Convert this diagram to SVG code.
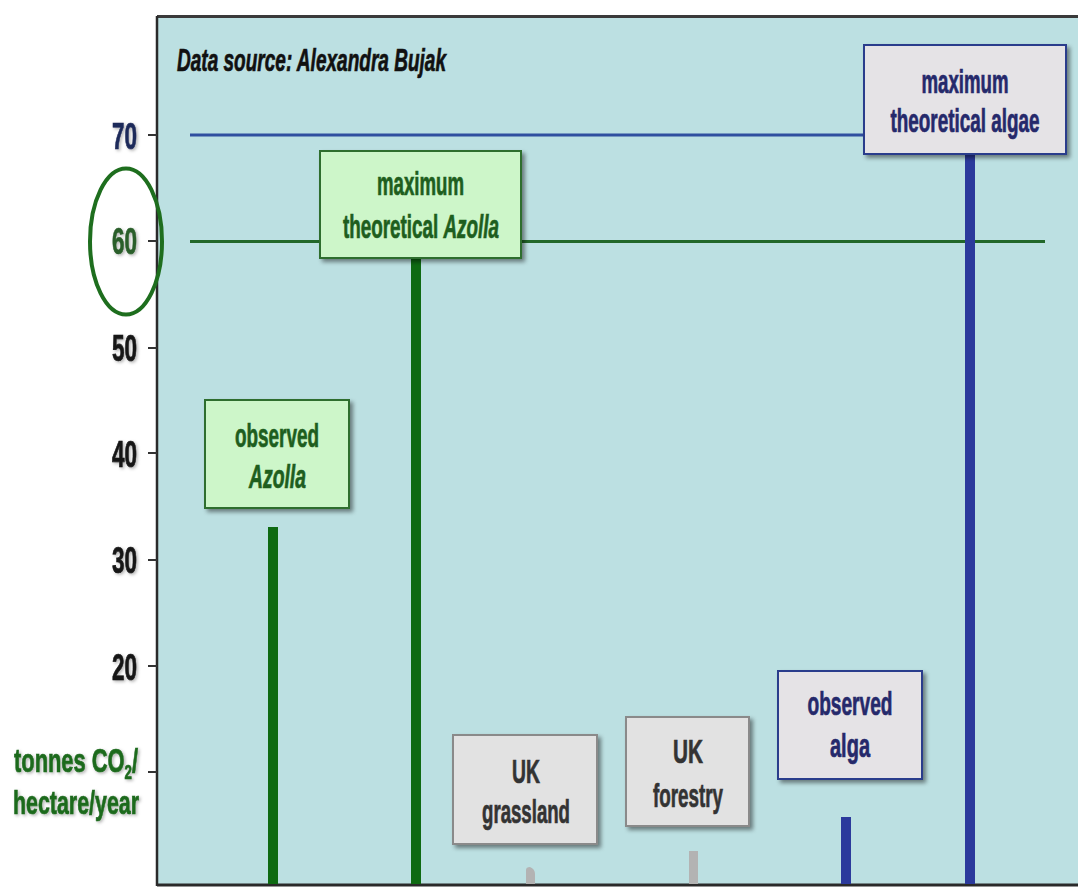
<svg xmlns="http://www.w3.org/2000/svg" width="1078" height="888" viewBox="0 0 1078 888">
<style>
  text { font-family: "Liberation Sans", Arial, sans-serif; font-weight: bold; stroke-width: 0.7px; }
  .ax { font-size: 36px; text-anchor: end; fill: #151515; stroke: #151515; }
  .lbl { font-size: 33px; text-anchor: middle; }
  .g { fill: #1e5e1e; stroke: #1e5e1e; }
  .b { fill: #25296b; stroke: #25296b; }
  .k { fill: #333333; stroke: #333333; }
  .boxG { fill: #cdf6c9; stroke: #2d6e2d; stroke-width: 2; }
  .boxB { fill: #e5e3e6; stroke: #2c3d8c; stroke-width: 2; }
  .boxK { fill: #e2e2e2; stroke: #8a8a8a; stroke-width: 2; }
  .tick { stroke: #333; stroke-width: 2; }
</style>
<defs>
  <filter id="sh" x="-10%" y="-10%" width="130%" height="130%">
    <feDropShadow dx="3" dy="3" stdDeviation="2" flood-color="#000" flood-opacity="0.45"/>
  </filter>
  <filter id="tsh" x="-20%" y="-20%" width="140%" height="140%">
    <feDropShadow dx="1.5" dy="1.5" stdDeviation="1.5" flood-color="#000" flood-opacity="0.3"/>
  </filter>
</defs>
<rect width="1078" height="888" fill="#ffffff"/>
<g id="plot">
  <rect x="157" y="16" width="921" height="869" fill="#bce0e2"/>
  <line x1="157" y1="16.5" x2="1078" y2="16.5" stroke="#3a3a3a" stroke-width="3"/>
  <line x1="157" y1="16" x2="157" y2="886" stroke="#2a2a2a" stroke-width="2.5"/>
  <line x1="157" y1="885" x2="1078" y2="885" stroke="#2a2a2a" stroke-width="3"/>
</g>
<g id="axis">
  <line class="tick" x1="148" y1="135" x2="157" y2="135"/>
  <line class="tick" x1="148" y1="241" x2="157" y2="241"/>
  <line class="tick" x1="148" y1="348" x2="157" y2="348"/>
  <line class="tick" x1="148" y1="453" x2="157" y2="453"/>
  <line class="tick" x1="148" y1="560" x2="157" y2="560"/>
  <line class="tick" x1="148" y1="666" x2="157" y2="666"/>
  <line class="tick" x1="148" y1="772" x2="157" y2="772"/>
  <g filter="url(#tsh)">
    <text class="ax" x="137" y="149" textLength="25" lengthAdjust="spacingAndGlyphs" style="fill:#1f2a5a;stroke:#1f2a5a">70</text>
    <text class="ax" x="137" y="254" textLength="25" lengthAdjust="spacingAndGlyphs" style="fill:#2a5e2a;stroke:#2a5e2a">60</text>
    <text class="ax" x="137" y="361" textLength="25" lengthAdjust="spacingAndGlyphs">50</text>
    <text class="ax" x="137" y="467" textLength="25" lengthAdjust="spacingAndGlyphs">40</text>
    <text class="ax" x="137" y="573" textLength="25" lengthAdjust="spacingAndGlyphs">30</text>
    <text class="ax" x="137" y="680" textLength="25" lengthAdjust="spacingAndGlyphs">20</text>
    <text x="14" y="772" font-size="33" textLength="124" lengthAdjust="spacingAndGlyphs" fill="#1f6b1f" stroke="#1f6b1f">tonnes CO<tspan font-size="20" dy="7">2</tspan><tspan dy="-7">/</tspan></text>
    <text x="13" y="814" font-size="33" textLength="126" lengthAdjust="spacingAndGlyphs" fill="#1f6b1f" stroke="#1f6b1f">hectare/year</text>
  </g>
  <ellipse cx="126" cy="241.5" rx="36" ry="73" fill="none" stroke="#1e6e1e" stroke-width="4"/>
</g>
<text id="source" x="177" y="71" font-size="32" font-style="italic" textLength="269" lengthAdjust="spacingAndGlyphs" fill="#111" stroke="#111">Data source: Alexandra Bujak</text>
<g id="connectors">
  <line x1="190" y1="135" x2="866" y2="135" stroke="#2f4f9f" stroke-width="3"/>
  <line x1="190" y1="241.5" x2="1045" y2="241.5" stroke="#22682a" stroke-width="3"/>
  <rect x="268" y="527" width="10" height="357" fill="#0e6a12"/>
  <rect x="411" y="256" width="10" height="628" fill="#0e6a12"/>
  <path d="M526,884 V870 Q526,867 530,867 Q535,869 535,874 V884 Z" fill="#b3b3b3"/>
  <rect x="689" y="851" width="9" height="33" fill="#b3b3b3"/>
  <rect x="841" y="817" width="10" height="67" fill="#2b3a9c"/>
  <rect x="965" y="152" width="10" height="732" fill="#2b3a9c"/>
</g>
<g id="maxAlgae">
  <rect class="boxB" x="864" y="45" width="202" height="109" filter="url(#sh)"/>
  <text class="lbl b" x="965" y="93" textLength="87" lengthAdjust="spacingAndGlyphs">maximum</text>
  <text class="lbl b" x="965" y="132" textLength="149" lengthAdjust="spacingAndGlyphs">theoretical algae</text>
</g>
<g id="maxAzolla">
  <rect class="boxG" x="320" y="151" width="201" height="107" filter="url(#sh)"/>
  <text class="lbl g" x="420.5" y="195" textLength="87" lengthAdjust="spacingAndGlyphs">maximum</text>
  <text class="lbl g" x="421" y="238" textLength="156" lengthAdjust="spacingAndGlyphs">theoretical <tspan font-style="italic">Azolla</tspan></text>
</g>
<g id="obsAzolla">
  <rect class="boxG" x="205" y="400" width="144" height="108" filter="url(#sh)"/>
  <text class="lbl g" x="277" y="447" textLength="84" lengthAdjust="spacingAndGlyphs">observed</text>
  <text class="lbl g" x="277.5" y="488" font-style="italic" textLength="57" lengthAdjust="spacingAndGlyphs">Azolla</text>
</g>
<g id="ukGrassland">
  <rect class="boxK" x="453" y="735" width="144" height="109" filter="url(#sh)"/>
  <text class="lbl k" x="526" y="783" textLength="28" lengthAdjust="spacingAndGlyphs">UK</text>
  <text class="lbl k" x="526" y="823" textLength="88" lengthAdjust="spacingAndGlyphs">grassland</text>
</g>
<g id="ukForestry">
  <rect class="boxK" x="626" y="717" width="123" height="109" filter="url(#sh)"/>
  <text class="lbl k" x="688" y="763" textLength="30" lengthAdjust="spacingAndGlyphs">UK</text>
  <text class="lbl k" x="688" y="807" textLength="70" lengthAdjust="spacingAndGlyphs">forestry</text>
</g>
<g id="obsAlga">
  <rect class="boxB" x="778" y="671" width="144" height="108" filter="url(#sh)"/>
  <text class="lbl b" x="850" y="715" textLength="85" lengthAdjust="spacingAndGlyphs">observed</text>
  <text class="lbl b" x="850" y="757" textLength="40" lengthAdjust="spacingAndGlyphs">alga</text>
</g>
</svg>
